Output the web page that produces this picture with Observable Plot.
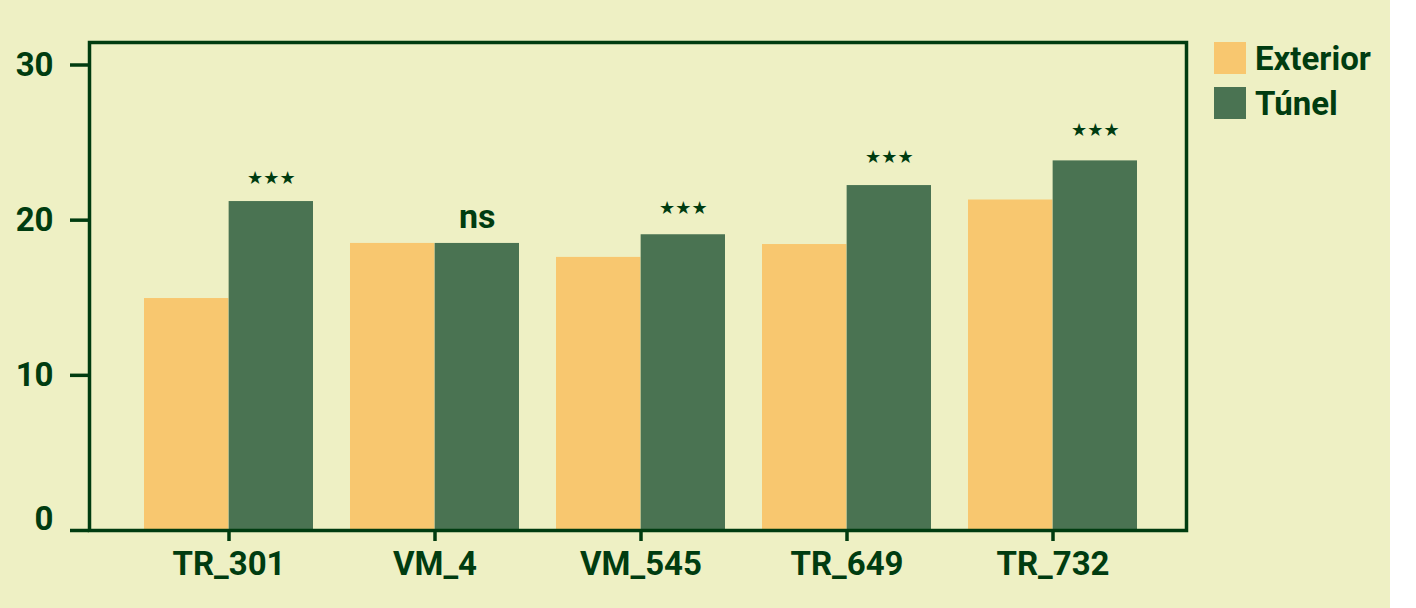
<!DOCTYPE html>
<html>
<head>
<meta charset="utf-8">
<script src="https://cdn.jsdelivr.net/npm/d3@7"></script>
<script src="https://cdn.jsdelivr.net/npm/@observablehq/plot@0.6"></script>
<style>
  html, body { margin: 0; padding: 0; background: #ffffff; }
  #wrap { position: relative; width: 1390px; height: 608px; background: #eef0c4; }
  #legend { position: absolute; left: 1214px; top: 42px; font-family: Roboto, sans-serif; font-weight: bold; font-size: 33px; color: #003c10; }
  #legend .row { display: flex; align-items: center; height: 32px; margin-bottom: 13px; }
  #legend .sw { width: 32px; height: 32px; margin-right: 9px; }
</style>
</head>
<body>
<div id="wrap">
  <div id="chart"></div>
  <div id="legend"></div>
</div>
<script>
const lines = ["TR_301", "VM_4", "VM_545", "TR_649", "TR_732"];
const series = ["Exterior", "Túnel"];
const exterior = [14.95, 18.5, 17.6, 18.43, 21.3];
const tunel = [21.2, 18.5, 19.06, 22.23, 23.82];
const signif = ["★★★", "ns", "★★★", "★★★", "★★★"];
const signifY = [22.34, 19.47, 20.4, 23.7, 25.4];
const yTicks = [0, 10, 20, 30];

const colors = ["#f8c76f", "#4a7352"];
const ink = "#003c10";
const font = "Roboto, sans-serif";

const data = [];
lines.forEach((l, i) => {
  data.push({line: l, serie: "Exterior", value: exterior[i]});
  data.push({line: l, serie: "Túnel", value: tunel[i]});
});
const labels = lines.map((l, i) => ({line: l, text: signif[i], y: signifY[i]}));

// band geometry (used to split each band into two halves)
const xRange = [143, 1138];
const padIn = 0.18;
const bw = (xRange[1] - xRange[0]) / (lines.length - padIn) * (1 - padIn);

const chart = Plot.plot({
  width: 1390,
  height: 608,
  marginLeft: 89,
  marginRight: 204,
  marginTop: 42,
  marginBottom: 78,
  style: {background: "transparent", color: ink, "font-family": font, "font-weight": "bold", "font-size": "33px"},
  x: {domain: lines, range: xRange, paddingInner: padIn, paddingOuter: 0, label: null},
  y: {domain: [0, 31.45], label: null},
  marks: [
    Plot.barY(data.filter(d => d.serie === "Exterior"), {x: "line", y: "value", fill: colors[0], insetRight: bw / 2}),
    Plot.barY(data.filter(d => d.serie === "Túnel"), {x: "line", y: "value", fill: colors[1], insetLeft: bw / 2}),
    Plot.text(labels.filter(d => d.text !== "ns"), {x: "line", y: "y", text: "text", dx: bw / 4, lineAnchor: "bottom", fill: ink, fontSize: 18, fontFamily: "DejaVu Sans", fontWeight: "normal"}),
    Plot.text(labels.filter(d => d.text === "ns"), {x: "line", y: "y", text: "text", dx: bw / 4, lineAnchor: "bottom", fill: ink, fontSize: 34}),
    Plot.frame({stroke: ink, strokeWidth: 3.5}),
    Plot.axisY({ticks: yTicks, tickSize: 19, tickPadding: 17, strokeWidth: 3.5, stroke: ink, fill: ink, fontSize: 33,
      tickFormat: d => d === 0 ? "" : d}),
    // the 0 label sits just above the baseline
    Plot.axisY({ticks: [0], tickSize: 0, tickPadding: 36, dy: -11, fill: ink, fontSize: 33}),
    Plot.axisX({tickSize: 11, tickPadding: 10, strokeWidth: 3.5, stroke: ink, fill: ink, fontSize: 33})
  ]
});
d3.select("#chart").append(() => chart);

const legend = d3.select("#legend");
series.forEach((s, i) => {
  const row = legend.append("div").attr("class", "row");
  row.append("div").attr("class", "sw").style("background", colors[i]);
  row.append("span").text(s);
});
</script>
</body>
</html>
